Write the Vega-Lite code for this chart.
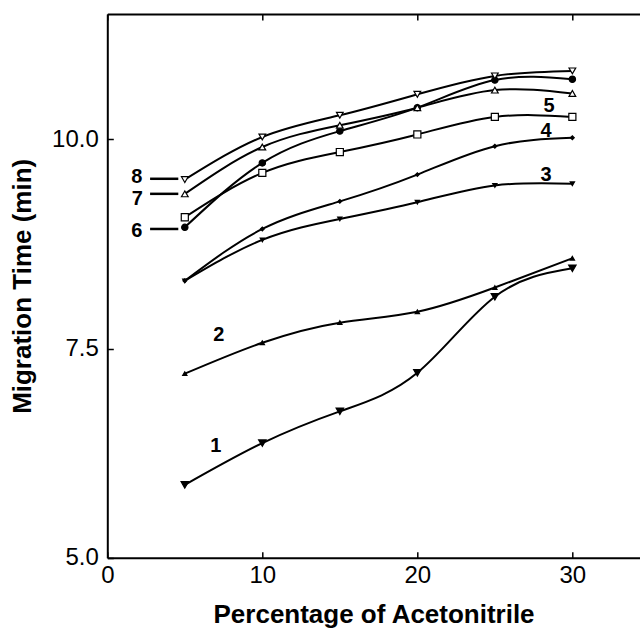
{
  "$schema": "https://vega.github.io/schema/vega-lite/v6.json",
  "autosize": {"type": "none"},
  "width": 532.5,
  "height": 543.7,
  "padding": {"left": 107.3, "top": 14, "right": 0, "bottom": 71.3},
  "background": "white",
  "config": {
    "view": {"stroke": null},
    "font": "Liberation Sans",
    "axis": {"domainColor": "black", "domainWidth": 2, "tickColor": "black", "tickWidth": 1.5, "labelColor": "black", "titleColor": "black", "grid": false}
  },
  "datasets": {
    "series": [
      {"s": "1", "x": 5, "y": 5.87}, {"s": "1", "x": 10, "y": 6.37}, {"s": "1", "x": 15, "y": 6.75}, {"s": "1", "x": 20, "y": 7.21}, {"s": "1", "x": 25, "y": 8.12}, {"s": "1", "x": 30, "y": 8.46},
      {"s": "2", "x": 5, "y": 7.2}, {"s": "2", "x": 10, "y": 7.57}, {"s": "2", "x": 15, "y": 7.81}, {"s": "2", "x": 20, "y": 7.94}, {"s": "2", "x": 25, "y": 8.23}, {"s": "2", "x": 30, "y": 8.58},
      {"s": "3", "x": 5, "y": 8.31}, {"s": "3", "x": 10, "y": 8.8}, {"s": "3", "x": 15, "y": 9.05}, {"s": "3", "x": 20, "y": 9.25}, {"s": "3", "x": 25, "y": 9.45}, {"s": "3", "x": 30, "y": 9.47},
      {"s": "4", "x": 5, "y": 8.31}, {"s": "4", "x": 10, "y": 8.93}, {"s": "4", "x": 15, "y": 9.26}, {"s": "4", "x": 20, "y": 9.58}, {"s": "4", "x": 25, "y": 9.92}, {"s": "4", "x": 30, "y": 10.02},
      {"s": "5", "x": 5, "y": 9.07}, {"s": "5", "x": 10, "y": 9.6}, {"s": "5", "x": 15, "y": 9.85}, {"s": "5", "x": 20, "y": 10.06}, {"s": "5", "x": 25, "y": 10.27}, {"s": "5", "x": 30, "y": 10.27},
      {"s": "6", "x": 5, "y": 8.95}, {"s": "6", "x": 10, "y": 9.72}, {"s": "6", "x": 15, "y": 10.1}, {"s": "6", "x": 20, "y": 10.38}, {"s": "6", "x": 25, "y": 10.71}, {"s": "6", "x": 30, "y": 10.72},
      {"s": "7", "x": 5, "y": 9.35}, {"s": "7", "x": 10, "y": 9.91}, {"s": "7", "x": 15, "y": 10.17}, {"s": "7", "x": 20, "y": 10.38}, {"s": "7", "x": 25, "y": 10.59}, {"s": "7", "x": 30, "y": 10.55},
      {"s": "8", "x": 5, "y": 9.52}, {"s": "8", "x": 10, "y": 10.03}, {"s": "8", "x": 15, "y": 10.29}, {"s": "8", "x": 20, "y": 10.54}, {"s": "8", "x": 25, "y": 10.76}, {"s": "8", "x": 30, "y": 10.82}
    ],
    "labels": [
      {"label": "8", "x": 1.9, "y": 9.55},
      {"label": "7", "x": 1.94, "y": 9.29},
      {"label": "6", "x": 1.9, "y": 8.9},
      {"label": "5", "x": 28.5, "y": 10.4},
      {"label": "4", "x": 28.3, "y": 10.1},
      {"label": "3", "x": 28.3, "y": 9.57},
      {"label": "2", "x": 7.2, "y": 7.66},
      {"label": "1", "x": 7.0, "y": 6.33}
    ],
    "dashes": [
      {"x": 2.76, "x2": 4.58, "y": 9.53},
      {"x": 2.76, "x2": 4.58, "y": 9.35},
      {"x": 2.76, "x2": 4.58, "y": 8.93}
    ]
  },
  "resolve": {"axis": {"x": "independent", "y": "independent"}},
  "layer": [
    {
      "data": {"name": "series"},
      "mark": {"type": "line", "interpolate": "natural", "color": "black", "strokeWidth": 2},
      "encoding": {
        "x": {"field": "x", "type": "quantitative", "scale": {"domain": [0, 34.35], "nice": false, "zero": false},
          "axis": {"orient": "bottom", "values": [0, 10, 20, 30], "ticks": false, "labelFlush": false, "labelPadding": 6, "labelFontSize": 24, "title": "Percentage of Acetonitrile", "titleFontSize": 26, "titleFontWeight": "bold", "titlePadding": 14}},
        "y": {"field": "y", "type": "quantitative", "scale": {"domain": [5, 11.5], "nice": false, "zero": false},
          "axis": {"orient": "left", "values": [5, 7.5, 10], "format": ".1f", "ticks": false, "labelFlush": false, "labelPadding": 9, "labelFontSize": 24, "title": "Migration Time (min)", "titleFontSize": 26, "titleFontWeight": "bold", "titlePadding": 16}},
        "detail": {"field": "s", "type": "nominal"}
      }
    },
    {
      "data": {"name": "series"},
      "mark": {"type": "point", "filled": true, "stroke": "black", "strokeWidth": 1.2, "opacity": 1},
      "encoding": {
        "x": {"field": "x", "type": "quantitative", "axis": {"orient": "bottom", "offset": -543.7, "values": [0, 10, 20, 30], "labels": false, "tickSize": 6, "title": null}},
        "y": {"field": "y", "type": "quantitative", "axis": {"orient": "right", "offset": -532.5, "values": [5, 7.5, 10], "labels": false, "domain": false, "tickSize": 6, "title": null}},
        "shape": {"field": "s", "type": "nominal", "legend": null,
          "scale": {"domain": ["1", "2", "3", "4", "5", "6", "7", "8"], "range": ["triangle-down", "triangle-up", "triangle-down", "diamond", "square", "circle", "triangle-up", "triangle-down"]}},
        "fill": {"field": "s", "type": "nominal", "legend": null,
          "scale": {"domain": ["1", "2", "3", "4", "5", "6", "7", "8"], "range": ["black", "black", "black", "black", "white", "black", "white", "white"]}},
        "size": {"field": "s", "type": "nominal", "legend": null,
          "scale": {"type": "ordinal", "domain": ["1", "2", "3", "4", "5", "6", "7", "8"], "range": [55, 18, 18, 14, 50, 40, 45, 45]}}
      }
    },
    {
      "data": {"name": "dashes"},
      "mark": {"type": "rule", "color": "black", "strokeWidth": 2.5},
      "encoding": {
        "x": {"field": "x", "type": "quantitative", "axis": {"orient": "top", "offset": -543.7, "values": [0, 10, 20, 30], "labels": false, "domain": false, "tickSize": 6, "title": null}},
        "x2": {"field": "x2"},
        "y": {"field": "y", "type": "quantitative", "axis": null}
      }
    },
    {
      "data": {"name": "labels"},
      "mark": {"type": "text", "font": "Liberation Sans", "fontWeight": "bold", "fontSize": 20, "color": "black", "align": "center", "baseline": "middle"},
      "encoding": {
        "x": {"field": "x", "type": "quantitative", "axis": null},
        "y": {"field": "y", "type": "quantitative", "axis": null},
        "text": {"field": "label"}
      }
    }
  ]
}
